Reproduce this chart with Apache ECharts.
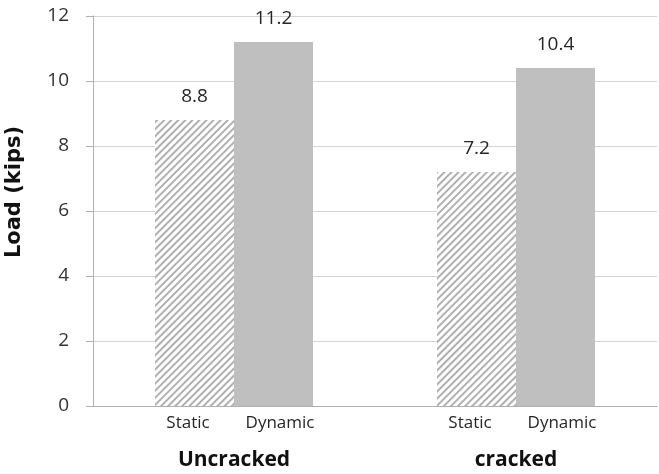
<!DOCTYPE html>
<html>
<head>
<meta charset="utf-8">
<script src="https://cdn.jsdelivr.net/npm/echarts@6/dist/echarts.min.js"></script>
<style>
  html, body { margin: 0; padding: 0; background: #fff; }
  #chart { width: 659px; height: 474px; }
</style>
</head>
<body>
<div id="chart"></div>
<script>
const groups = ['Uncracked', 'cracked']
const staticLoad = [8.8, 7.2]
const dynamicLoad = [11.2, 10.4]
const yTicks = [0, 2, 4, 6, 8, 10, 12]

const chart = echarts.init(document.getElementById('chart'))

const font = 'Open Sans, sans-serif'

const labelStyle = {
  show: true,
  position: 'top',
  distance: 14,
  color: '#262626',
  fontSize: 19,
  fontFamily: font
}

const sub = { width: 92, align: 'center', fontSize: 17, color: '#262626', fontFamily: font, lineHeight: 24 }

chart.setOption({
  animation: false,
  grid: { left: 93, right: 2, top: 16, bottom: 68, outerBoundsMode: 'none' },
  xAxis: {
    type: 'category',
    data: groups,
    axisLine: { lineStyle: { color: '#b0b0b0' } },
    axisTick: { length: 6, lineStyle: { color: '#b0b0b0' } },
    axisLabel: {
      interval: 0,
      margin: 5,
      formatter: v => '{s|Static}{d|Dynamic}\n{g|' + v + '}',
      rich: {
        s: sub,
        d: sub,
        g: { fontSize: 21, fontWeight: 'bold', color: '#111', fontFamily: font, lineHeight: 28, padding: [23, 0, 0, 0] }
      }
    }
  },
  yAxis: {
    type: 'value',
    min: yTicks[0],
    max: yTicks[yTicks.length - 1],
    interval: 2,
    name: 'Load (kips)',
    nameLocation: 'middle',
    nameGap: 68,
    nameTextStyle: { fontSize: 21, fontWeight: 'bold', color: '#111', fontFamily: 'DejaVu Sans, sans-serif', padding: [0, 0, 0, 38] },
    axisLine: { show: true, lineStyle: { color: '#b0b0b0' } },
    axisTick: { show: true, length: 7, lineStyle: { color: '#b0b0b0' } },
    axisLabel: { fontSize: 19, color: '#333', margin: 24, fontFamily: font },
    splitLine: { lineStyle: { color: '#d4d4d4' } }
  },
  series: [
    {
      name: 'Static',
      type: 'bar',
      data: staticLoad,
      barWidth: 79,
      barGap: '0%',
      itemStyle: {
        color: '#fff',
        decal: {
          symbol: 'rect',
          dashArrayX: [1, 0],
          dashArrayY: [2, 2.5],
          rotation: -Math.PI / 4,
          color: '#b0b0b0'
        }
      },
      label: labelStyle
    },
    {
      name: 'Dynamic',
      type: 'bar',
      data: dynamicLoad,
      barWidth: 79,
      itemStyle: { color: '#bfbfbf' },
      label: labelStyle
    }
  ]
})
</script>
</body>
</html>
